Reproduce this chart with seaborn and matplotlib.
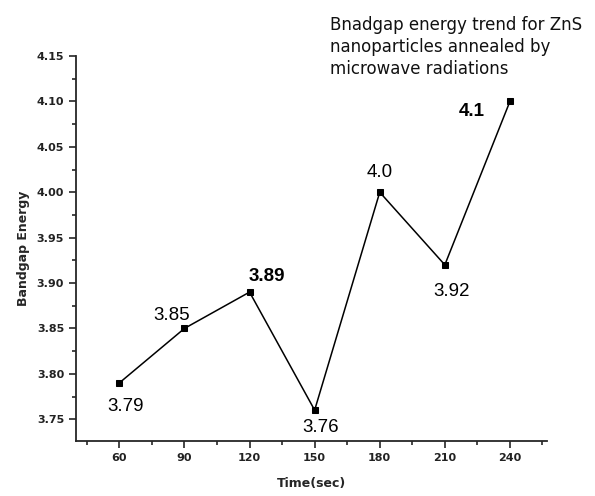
import numpy as np
import pandas as pd
import matplotlib
matplotlib.use('Agg')
import matplotlib.pyplot as plt
import seaborn as sns
from matplotlib.ticker import MultipleLocator

# data
time_sec = [60, 90, 120, 150, 180, 210, 240]
bandgap = [3.79, 3.85, 3.89, 3.76, 4.00, 3.92, 4.10]
point_labels = ['3.79', '3.85', '3.89', '3.76', '4.0', '3.92', '4.1']
label_bold = [False, False, True, False, False, False, True]
ytick_vals = [3.75, 3.80, 3.85, 3.90, 3.95, 4.00, 4.05, 4.10, 4.15]

df = pd.DataFrame({'Time': time_sec, 'Bandgap': bandgap})

sns.set_style('ticks')
plt.rcParams['font.family'] = ['Liberation Sans', 'DejaVu Sans']

fig = plt.figure(figsize=(5.95, 4.96), dpi=100)
ax = fig.add_axes([0.1277, 0.1109, 0.919 - 0.1277, 0.887 - 0.1109])

sns.lineplot(data=df, x='Time', y='Bandgap', color='black', linewidth=1.1,
             marker='s', markersize=5, markeredgecolor='black', ax=ax)

ax.set_xlim(40, 257)
ax.set_ylim(3.726, 4.15)
ax.xaxis.set_minor_locator(MultipleLocator(15))
ax.yaxis.set_minor_locator(MultipleLocator(0.025))
ax.set_xticks(time_sec)
ax.set_yticks(ytick_vals)
ax.set_yticklabels([f'{v:.2f}' for v in ytick_vals])
ax.tick_params(which='major', direction='out', length=5, width=1.2, labelsize=8)
ax.tick_params(which='minor', direction='out', length=3, width=1.2)
for lab in ax.get_xticklabels() + ax.get_yticklabels():
    lab.set_fontweight('bold')
    lab.set_fontfamily('DejaVu Sans')
    lab.set_color('#222222')

sns.despine(ax=ax)
ax.spines['left'].set_linewidth(1.3)
ax.spines['bottom'].set_linewidth(1.3)

ax.set_xlabel('Time(sec)', fontsize=9, fontweight='bold', labelpad=10, family='DejaVu Sans')
ax.set_ylabel('Bandgap Energy', fontsize=9, fontweight='bold', labelpad=5, family='DejaVu Sans')

# label offsets in pixels from each point (text baseline)
offsets = [(6, -28), (-13, 8), (17, 11), (6, -22), (0, 15), (7, -31), (-38, -15)]
for x, y, txt, bold, (dx, dy) in zip(time_sec, bandgap, point_labels, label_bold, offsets):
    ax.annotate(txt, (x, y), xytext=(dx, dy), textcoords='offset pixels',
                ha='center', va='baseline', fontsize=13.5,
                fontweight='bold' if bold else 'normal', color='black')

fig.text(0.555, 0.968, 'Bnadgap energy trend for ZnS\nnanoparticles annealed by\nmicrowave radiations',
         ha='left', va='top', fontsize=12, linespacing=1.3, color='#111111',
         family='DejaVu Sans')

fig.savefig('out.png', dpi=100)
